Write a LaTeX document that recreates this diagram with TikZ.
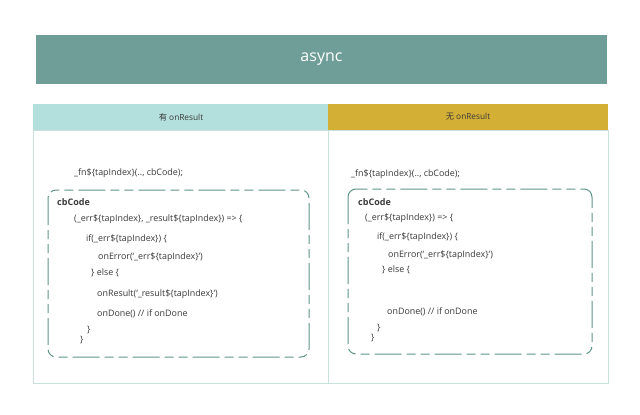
\documentclass[tikz,border=0pt]{standalone}
\usepackage{fontspec}
\setmainfont{Open Sans}
\newfontfamily\cjk{Noto Sans CJK SC}
\definecolor{banner}{HTML}{6F9D97}
\definecolor{hleft}{HTML}{B3DFDC}
\definecolor{hright}{HTML}{D3AF35}
\definecolor{bodyline}{HTML}{C9E0DD}
\definecolor{dashcol}{HTML}{5E958B}
\definecolor{codecol}{HTML}{3A3A3A}
\begin{document}
\begin{tikzpicture}[x=1pt,y=-1pt,
  code/.style={anchor=west,inner sep=0pt,font=\fontsize{8.9}{10}\selectfont,text=codecol},
  hdr/.style={inner sep=0pt,font=\fontsize{8.3}{10}\selectfont,text=codecol},
  cbbox/.style={draw=dashcol,line width=1pt,rounded corners=8pt,
    dash pattern=on 27pt off 5pt on 9pt off 5pt on 9pt off 5pt}]
\useasboundingbox (0,0) rectangle (640,415);
\fill[white] (0,0) rectangle (640,415);
% banner
\fill[banner] (36,35) rectangle (607,84);
\node[text=white,font=\fontsize{16}{18}\selectfont] (title) at (321.5,59) {async};
% table
\fill[hleft] (33,104) rectangle (328,130);
\fill[hright] (328,104) rectangle (608,130);
\draw[bodyline,line width=0.7pt] (33,130) rectangle (608,383);
\draw[bodyline,line width=0.7pt] (328,130) -- (328,383);
\node[hdr] (hl) at (181,117) {{\cjk 有} onResult};
\node[hdr] (hr) at (468,117) {{\cjk 无} onResult};
% left column
\node[code] (l0) at (74,173) {\_fn\$\{tapIndex\}(.., cbCode);};
\draw[cbbox] (48,190) rectangle (309,357);
\node[code,font=\fontsize{9}{10}\selectfont\bfseries] (l1) at (57,202) {cbCode};
\node[code] (l2) at (74,219) {(\_err\$\{tapIndex\}, \_result\$\{tapIndex\}) => \{};
\node[code] (l3) at (86,239) {if(\_err\$\{tapIndex\}) \{};
\node[code] (l4) at (98,257) {onError(`\_err\$\{tapIndex\}`)};
\node[code] (l5) at (91,273) {\} else \{};
\node[code] (l6) at (97,294) {onResult(`\_result\$\{tapIndex\}`)};
\node[code] (l7) at (97,314) {onDone() // if onDone};
\node[code] (l8) at (87,330) {\}};
\node[code] (l9) at (80,340) {\}};
% right column
\node[code] (r0) at (351,174) {\_fn\$\{tapIndex\}(.., cbCode);};
\draw[cbbox] (348,189) rectangle (592,354);
\node[code,font=\fontsize{9}{10}\selectfont\bfseries] (r1) at (358,202) {cbCode};
\node[code] (r2) at (365,218) {(\_err\$\{tapIndex\}) => \{};
\node[code] (r3) at (377,237) {if(\_err\$\{tapIndex\}) \{};
\node[code] (r4) at (388,255) {onError(`\_err\$\{tapIndex\}`)};
\node[code] (r5) at (382,270) {\} else \{};
\node[code] (r7) at (387,312) {onDone() // if onDone};
\node[code] (r8) at (377,328) {\}};
\node[code] (r9) at (371,338) {\}};
\end{tikzpicture}
\end{document}
